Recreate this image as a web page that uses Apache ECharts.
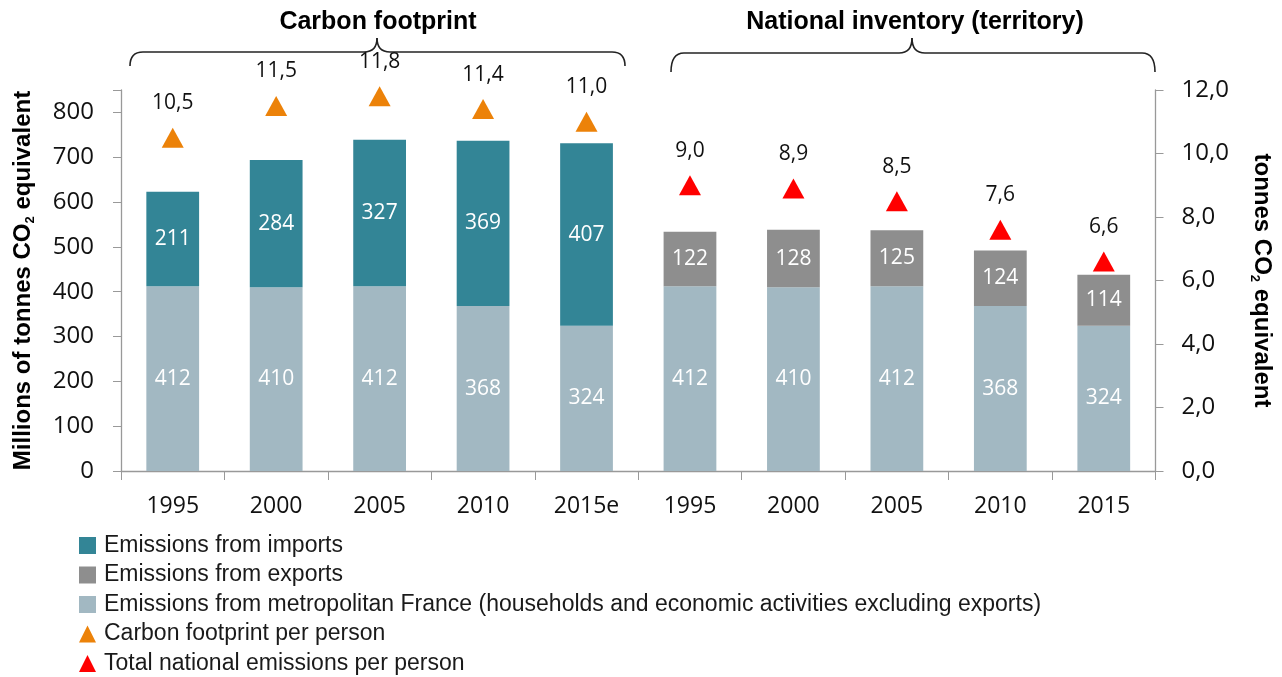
<!DOCTYPE html>
<html>
<head>
<meta charset="utf-8">
<script src="https://cdn.jsdelivr.net/npm/echarts@6/dist/echarts.min.js"></script>
<style>
  html, body { margin: 0; padding: 0; background: #fff; }
  #myChart { width: 1282px; height: 677px; }
</style>
</head>
<body>
<div id="myChart"></div>
<script>
// categories: 5 carbon footprint years + 5 national inventory years
const categories = ['1995', '2000', '2005', '2010', '2015e', '1995 ', '2000 ', '2005 ', '2010 ', '2015'];
const metroEmissions = [412, 410, 412, 368, 324, 412, 410, 412, 368, 324];
const importEmissions = [211, 284, 327, 369, 407, '-', '-', '-', '-', '-'];
const exportEmissions = ['-', '-', '-', '-', '-', 122, 128, 125, 124, 114];
const footprintPerPerson = [10.5, 11.5, 11.8, 11.4, 11.0, '-', '-', '-', '-', '-'];
const nationalPerPerson = ['-', '-', '-', '-', '-', 9.0, 8.9, 8.5, 7.6, 6.6];
const leftTicks = [0, 100, 200, 300, 400, 500, 600, 700, 800];

const myChart = echarts.init(document.getElementById('myChart'));

const numFont = "'Open Sans', 'Noto Sans', sans-serif";
const textFont = "'Liberation Sans', Arial, sans-serif";

function comma(v) {
    return v.toFixed(1).replace('.', ',');
}

// curly brace made of quadratic curves and lines
function brace(x1, x2, tipX, yEnd, yLine, yTip) {
    const r = 13;
    const st = { stroke: '#222', lineWidth: 1.6, fill: null };
    const curve = (ax, ay, cx, cy, bx, by) => ({
        type: 'bezierCurve',
        shape: { x1: ax, y1: ay, cpx1: cx, cpy1: cy, x2: bx, y2: by },
        style: st
    });
    const line = (ax, bx) => ({
        type: 'line',
        shape: { x1: ax, y1: yLine, x2: bx, y2: yLine },
        style: st
    });
    return [
        curve(x1, yEnd, x1, yLine, x1 + r, yLine),
        line(x1 + r, tipX - r),
        curve(tipX - r, yLine, tipX, yLine, tipX, yTip),
        curve(tipX, yTip, tipX, yLine, tipX + r, yLine),
        line(tipX + r, x2 - r),
        curve(x2 - r, yLine, x2, yLine, x2, yEnd)
    ];
}

const nameRich = {
    t: { fontFamily: textFont, fontWeight: 'bold', fontSize: 24, color: '#000' },
    s: { fontFamily: textFont, fontWeight: 'bold', fontSize: 13, color: '#000', padding: [14, 0, 0, 0] }
};

myChart.setOption({
    animation: false,
    grid: { left: 121, right: 118, top: 90, bottom: 206 },
    legend: {
        orient: 'vertical',
        left: 79,
        top: 534,
        height: 200,
        padding: 0,
        itemWidth: 17,
        itemHeight: 17,
        itemGap: 6.5,
        icon: 'rect',
        textStyle: { fontFamily: textFont, fontSize: 23, lineHeight: 21, color: '#1a1a1a', padding: [0, 0, 0, 3] },
        data: [
            { name: 'Emissions from imports' },
            { name: 'Emissions from exports' },
            { name: 'Emissions from metropolitan France (households and economic activities excluding exports)' },
            { name: 'Carbon footprint per person', icon: 'triangle' },
            { name: 'Total national emissions per person', icon: 'triangle' }
        ]
    },
    graphic: [
        {
            type: 'text',
            style: { text: 'Carbon footprint', x: 378, y: 22, align: 'center', verticalAlign: 'middle',
                font: 'bold 25px ' + textFont, fill: '#000' }
        },
        {
            type: 'text',
            style: { text: 'National inventory (territory)', x: 915, y: 22, align: 'center', verticalAlign: 'middle',
                font: 'bold 25px ' + textFont, fill: '#000' }
        }
    ].concat(brace(130, 625, 377, 66, 52, 38), brace(671, 1155, 912, 72, 53, 38)),
    xAxis: {
        type: 'category',
        data: categories,
        axisLine: { lineStyle: { color: '#999', width: 1.3 } },
        axisTick: { show: true, length: 9, lineStyle: { color: '#999' } },
        axisLabel: {
            margin: 24,
            fontFamily: numFont, fontSize: 23, color: '#111',
            formatter: v => v.trim()
        }
    },
    yAxis: [
        {
            type: 'value',
            min: 0, max: 850, interval: 100,
            splitLine: { show: false },
            axisLine: { show: true, lineStyle: { color: '#999', width: 1.3 } },
            axisTick: { show: true, length: 8, lineStyle: { color: '#999' } },
            axisLabel: {
                margin: 27,
                fontFamily: numFont, fontSize: 24, color: '#111',
                formatter: v => leftTicks.indexOf(v) >= 0 ? String(v) : ''
            },
            name: '{t|Millions of tonnes CO}{s|2}{t| equivalent}',
            nameLocation: 'middle',
            nameRotate: 90,
            nameGap: 84,
            nameTextStyle: { rich: nameRich }
        },
        {
            type: 'value',
            min: 0, max: 12, interval: 2,
            position: 'right',
            splitLine: { show: false },
            axisLine: { show: true, lineStyle: { color: '#999', width: 1.3 } },
            axisTick: { show: true, length: 8, lineStyle: { color: '#999' } },
            axisLabel: {
                margin: 26,
                fontFamily: numFont, fontSize: 24, color: '#111',
                formatter: v => comma(v)
            },
            name: '{t|tonnes CO}{s|2}{t| equivalent}',
            nameLocation: 'middle',
            nameRotate: -90,
            nameGap: 93,
            nameTextStyle: { rich: nameRich }
        }
    ],
    series: [
        {
            name: 'Emissions from metropolitan France (households and economic activities excluding exports)',
            type: 'bar',
            stack: 'total',
            barWidth: '51%',
            data: metroEmissions,
            itemStyle: { color: '#a2b8c2' },
            label: { show: true, position: 'inside', color: '#fff', fontFamily: numFont, fontSize: 21 }
        },
        {
            name: 'Emissions from imports',
            type: 'bar',
            stack: 'total',
            data: importEmissions,
            itemStyle: { color: '#338596' },
            label: { show: true, position: 'inside', color: '#fff', fontFamily: numFont, fontSize: 21 }
        },
        {
            name: 'Emissions from exports',
            type: 'bar',
            stack: 'total',
            data: exportEmissions,
            itemStyle: { color: '#8e8e8e' },
            label: { show: true, position: 'inside', color: '#fff', fontFamily: numFont, fontSize: 21 }
        },
        {
            name: 'Carbon footprint per person',
            type: 'scatter',
            yAxisIndex: 1,
            symbol: 'triangle',
            symbolSize: [22, 20],
            data: footprintPerPerson,
            itemStyle: { color: '#ec8209', opacity: 1 },
            label: {
                show: true, position: 'top', distance: 14,
                color: '#111', fontFamily: numFont, fontSize: 21,
                formatter: p => comma(p.value)
            }
        },
        {
            name: 'Total national emissions per person',
            type: 'scatter',
            yAxisIndex: 1,
            symbol: 'triangle',
            symbolSize: [22, 20],
            data: nationalPerPerson,
            itemStyle: { color: '#ff0000', opacity: 1 },
            label: {
                show: true, position: 'top', distance: 14,
                color: '#111', fontFamily: numFont, fontSize: 21,
                formatter: p => comma(p.value)
            }
        }
    ]
});
</script>
</body>
</html>
